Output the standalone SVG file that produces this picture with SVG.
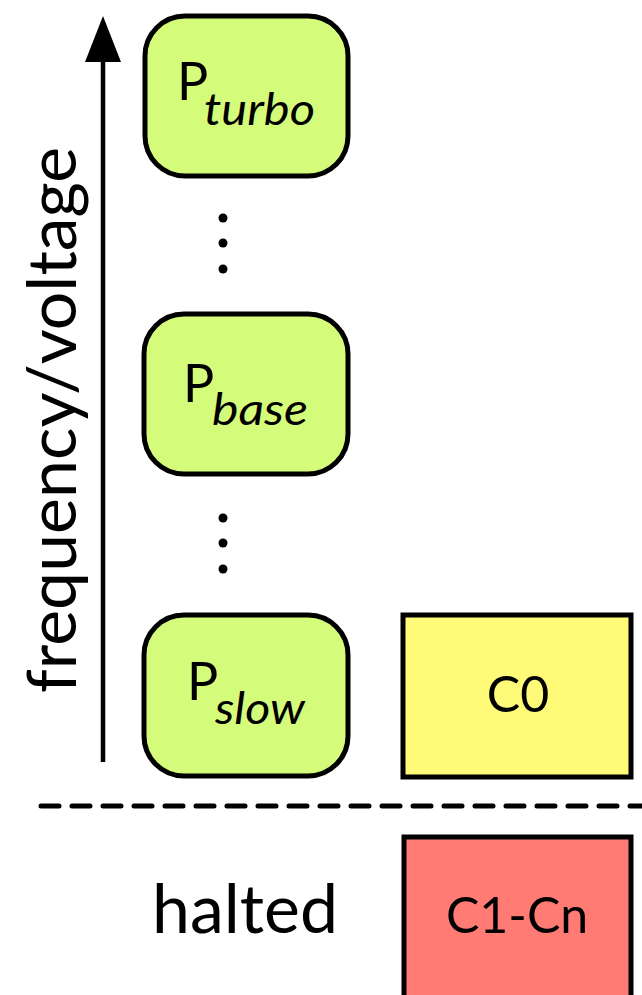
<svg xmlns="http://www.w3.org/2000/svg" width="642" height="995" viewBox="0 0 642 995">
  <style>
    .pstate { fill: #d5fb7a; stroke: #000; stroke-width: 5; }
    .c0 { fill: #fffa78; stroke: #000; stroke-width: 5; }
    .cn { fill: #ff7b74; stroke: #000; stroke-width: 5; }
    text { font-family: Lato, "Liberation Sans", sans-serif; fill: #000; }
    .p { font-size: 52px; }
    .sub { font-size: 45px; font-style: italic; }
    .clabel { font-size: 50px; text-anchor: middle; }
    .big { font-size: 68px; }
    .dot { fill: #000; }
  </style>

  <!-- axis arrow and the dashed separator -->
  <g id="connectors">
    <line x1="103" y1="762" x2="103" y2="58" stroke="#000" stroke-width="4.5"/>
    <polygon points="85,62 121,62 103,16" fill="#000"/>
    <line x1="41" y1="806" x2="642" y2="806" stroke="#000" stroke-width="5" stroke-dasharray="18 13" stroke-linecap="round"/>
  </g>

  <g id="axis-label">
    <text class="big" transform="translate(76,693) rotate(-90)" font-size="72">frequency/voltage</text>
  </g>

  <g id="p-turbo">
    <rect class="pstate" x="145" y="16" width="203" height="160" rx="40"/>
    <text class="p" x="177" y="100">P</text>
    <text class="sub" x="204" y="125" textLength="111" lengthAdjust="spacingAndGlyphs">turbo</text>
  </g>

  <g id="dots-upper">
    <circle class="dot" cx="223" cy="218" r="4.5"/>
    <circle class="dot" cx="223" cy="243" r="4.5"/>
    <circle class="dot" cx="223" cy="269" r="4.5"/>
  </g>

  <g id="p-base">
    <rect class="pstate" x="144" y="314" width="204" height="160" rx="40"/>
    <text class="p" x="183" y="402">P</text>
    <text class="sub" x="212" y="425" textLength="96" lengthAdjust="spacingAndGlyphs">base</text>
  </g>

  <g id="dots-lower">
    <circle class="dot" cx="223" cy="518" r="4.5"/>
    <circle class="dot" cx="223" cy="543" r="4.5"/>
    <circle class="dot" cx="223" cy="569" r="4.5"/>
  </g>

  <g id="p-slow">
    <rect class="pstate" x="144" y="615" width="204" height="161" rx="40"/>
    <text class="p" x="187" y="700">P</text>
    <text class="sub" x="215" y="724" textLength="90" lengthAdjust="spacingAndGlyphs">slow</text>
  </g>

  <g id="c0">
    <rect class="c0" x="403" y="615" width="228" height="162"/>
    <text class="clabel" x="518" y="712">C0</text>
  </g>

  <g id="halted">
    <text class="big" x="152" y="933">halted</text>
  </g>

  <g id="c1-cn">
    <rect class="cn" x="404" y="837" width="227" height="200"/>
    <text class="clabel" x="517" y="933" font-size="54">C1-Cn</text>
  </g>
</svg>
